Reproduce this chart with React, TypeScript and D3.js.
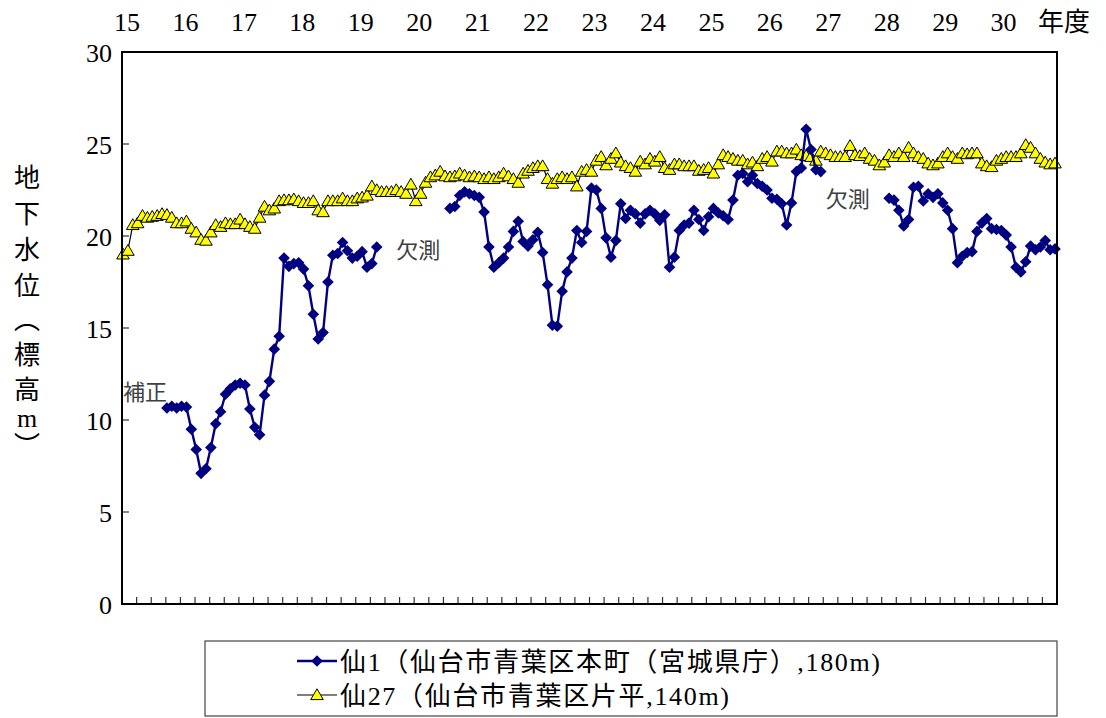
import React from "react";
import * as d3 from "d3";

// ---- data ----
const fiscalYears = ["15","16","17","18","19","20","21","22","23","24","25","26","27","28","29","30"];
const yTicks = [0, 5, 10, 15, 20, 25, 30];

// 仙27 monthly values (H15.4 -> H31.3)
const sen27Values: number[] = [
  19.0, 19.2, 20.6, 20.7, 21.1, 21.0, 21.05, 21.1, 21.2, 21.15,
  21.0, 20.7, 20.7, 20.8, 20.4, 20.2, 19.8, 19.75, 20.2, 20.6,
  20.5, 20.7, 20.65, 20.65, 20.9, 20.65, 20.5, 20.4, 21.0, 21.6,
  21.4, 21.5, 21.9, 21.95, 21.95, 22.0, 21.9, 21.8, 21.8, 21.9,
  21.4, 21.3, 21.9, 21.9, 21.9, 22.05, 21.9, 21.9, 22.05, 22.1,
  22.2, 22.7, 22.5, 22.4, 22.4,
  22.4, 22.5, 22.4, 22.3, 22.8, 21.9, 22.3, 22.9,
  23.2, 23.3, 23.5, 23.25, 23.2, 23.25, 23.4, 23.3, 23.2, 23.25,
  23.2, 23.1, 23.2, 23.1, 23.2, 23.4, 23.25, 23.1, 22.9, 23.4,
  23.55, 23.7, 23.8, 23.8, 23.1, 22.85, 23.1, 23.2, 23.1, 23.2,
  22.7, 23.5, 23.6, 23.5, 24.1, 24.3, 23.85, 24.2, 24.5, 24.0,
  23.8, 23.7, 23.5, 24.05, 23.9, 24.2, 24.05, 24.3, 23.7, 23.6,
  23.9, 23.9, 23.8, 23.8, 23.8, 23.55, 23.6, 23.7, 23.4, 23.9,
  24.4, 24.3, 24.2, 24.1,
  24.1, 23.9, 24.0, 23.8, 24.2, 24.3, 24.05, 24.6, 24.6, 24.5,
  24.5, 24.7, 24.4, 24.35, 24.3, 24.1, 24.6, 24.5, 24.4, 24.3,
  24.3, 24.3, 24.9, 24.4, 24.35, 24.5, 24.2, 24.1, 23.85, 24.0,
  24.4, 24.3, 24.5, 24.3, 24.8, 24.5, 24.3, 24.2, 23.95, 23.85,
  23.95, 24.3, 24.5, 24.3, 24.2, 24.5, 24.45, 24.5, 24.5, 23.95,
  23.8, 23.75, 24.1, 24.2, 24.3, 24.3, 24.3, 24.5, 24.95, 24.8,
  24.5, 24.2, 24.0, 23.9, 23.95,
];

// 仙1 monthly values (null = 欠測)
const sen1Values: (number | null)[] = [
  null, null, null, null, null, null, null, null, null,
  10.65, 10.75, 10.65, 10.75, 10.7, 9.5, 8.4, 7.1, 7.35, 8.5,
  9.8, 10.45, 11.4, 11.7, 11.9, 12.0, 11.9, 10.6, 9.6, 9.2,
  11.35, 12.1, 13.85, 14.55, 18.8, 18.35, 18.5, 18.55, 18.2, 17.3,
  15.75, 14.4, 14.75, 17.5, 18.95, 19.05, 19.65, 19.2, 18.8, 18.9,
  19.15, 18.3, 18.5, 19.4,
  null, null, null, null, null, null, null, null, null, null, null, null, null, null,
  21.5, 21.6, 22.2, 22.4, 22.3, 22.2, 22.1, 21.3, 19.4, 18.3,
  18.55, 18.8, 19.4, 20.25, 20.8, 19.7, 19.45, 19.8, 20.2, 19.1,
  17.35, 15.15, 15.1, 17.0, 18.05, 18.8, 20.3, 19.65, 20.25, 22.6,
  22.5, 21.5, 19.9, 18.85, 19.75, 21.75, 20.95, 21.4, 21.2, 20.7,
  21.2, 21.4, 21.2, 20.85, 21.15, 18.3, 18.85, 20.3, 20.6, 20.7,
  21.4, 20.9, 20.3, 21.05, 21.5, 21.25, 21.1, 20.9, 21.95, 23.3,
  23.4, 22.95,
  23.3, 22.85, 22.7, 22.5, 22.05, 22.0, 21.75, 20.6, 21.8, 23.5,
  23.7, 25.8, 24.7, 23.6, 23.5,
  null, null, null, null, null, null, null, null, null, null, null, null, null,
  22.05, 21.95, 21.4, 20.55, 20.9, 22.65, 22.7, 21.9, 22.3, 22.1,
  22.3, 21.8, 21.4, 20.4, 18.55, 18.9, 19.1, 19.15, 20.25, 20.7,
  20.95, 20.4, 20.35, 20.3, 20.05, 19.4, 18.3, 18.05, 18.6, 19.45,
  19.25, 19.4, 19.75, 19.25, 19.3,
];

const legendLabels = ["仙1（仙台市青葉区本町（宮城県庁）,180m)", "仙27（仙台市青葉区片平,140m)"];
const yTitleChars = ["地", "下", "水", "位", "︵", "標", "高", "m", "︶"];
const notes = [
  { text: "補正", idx: 0, v: 11.5 },
  { text: "欠測", idx: 56, v: 19.2 },
  { text: "欠測", idx: 144, v: 22.0 },
];

// ---- layout ----
const W = 1106, H = 718;
const L = 122, R = 1057, T = 52, B = 604;
const FONT = "Liberation Serif, DejaVu Serif, Noto Sans CJK JP, serif";
const NAVY = "#000080";

const x = d3.scaleLinear().domain([0, sen27Values.length - 1]).range([L + 1, R - 2]);
const xYear = d3.scaleLinear().domain([15, 31]).range([L, R]);
const xQuarter = d3.scaleLinear().domain([0, 64]).range([L, R]);
const y = d3.scaleLinear().domain([0, 30]).range([B, T]);

const diamond = "M0,-5.8L5.8,0L0,5.8L-5.8,0Z";
const triangle = "M0,-6.2L6.3,4.6L-6.3,4.6Z";
const titleY = [178, 214, 250, 286, 320, 355, 390, 418, 446];

export default function App() {
  const line27 = d3.line<number>().x((_, i) => x(i)).y((d) => y(d))(sen27Values) || "";
  const line1 = d3
    .line<number | null>()
    .defined((d) => d != null)
    .x((_, i) => x(i))
    .y((d) => y(d as number))(sen1Values) || "";
  const quarters = d3.range(1, 64);
  const txt = { fontFamily: FONT };

  return (
    <svg width={W} height={H} style={{ position: "absolute", left: 0, top: 0, background: "#fff", fontFamily: FONT }}>
      <rect width={W} height={H} fill="#fff" />
      {/* top year labels */}
      {fiscalYears.map((fy, k) => (
        <text key={fy} style={txt} x={xYear(15 + k) + 5} y={22} fontSize={26} textAnchor="middle" dominantBaseline="central" fill="#000">
          {fy}
        </text>
      ))}
      <text style={txt} x={xYear(31) + 7} y={22} fontSize={26} textAnchor="middle" dominantBaseline="central" fill="#000">年度</text>

      {/* y ticks labels */}
      {yTicks.map((t) => (
        <text key={t} style={txt} x={112} y={y(t) + 1} fontSize={26} textAnchor="end" dominantBaseline="central" fill="#000">
          {t}
        </text>
      ))}
      {/* y title */}
      {yTitleChars.map((c, k) => (
        <text key={k} style={txt} x={27} y={titleY[k]} fontSize={26} textAnchor="middle" dominantBaseline="central" fill="#000">
          {c}
        </text>
      ))}

      {/* ticks */}
      {yTicks.slice(1, -1).map((t) => (
        <line key={t} x1={L} x2={L + 7} y1={y(t)} y2={y(t)} stroke="#333" strokeWidth={1.2} />
      ))}
      {quarters.map((q) => (
        <line key={q} x1={xQuarter(q)} x2={xQuarter(q)} y1={B} y2={B - 7} stroke="#333" strokeWidth={1.2} />
      ))}

      {/* series 仙27 */}
      <path d={line27} fill="none" stroke="#000" strokeWidth={1.2} />
      {sen27Values.map((v, i) => (
        <path key={i} d={triangle} transform={`translate(${x(i)},${y(v)})`} fill="#ffff00" stroke="#000" strokeWidth={1} />
      ))}
      {/* series 仙1 */}
      <path d={line1} fill="none" stroke={NAVY} strokeWidth={2.4} />
      {sen1Values.map((v, i) =>
        v == null ? null : <path key={i} d={diamond} transform={`translate(${x(i)},${y(v)})`} fill={NAVY} />
      )}

      {/* notes */}
      {notes.map((n, k) => (
        <text key={k} style={txt} x={k === 0 ? 123 : x(n.idx)} y={y(n.v)} fontSize={22} dominantBaseline="central" fill="#404040" textAnchor="start">
          {n.text}
        </text>
      ))}

      {/* plot frame */}
      <rect x={L} y={T} width={R - L} height={B - T} fill="none" stroke="#000" strokeWidth={2} />

      {/* legend */}
      <rect x={205} y={641} width={852} height={75} fill="#fff" stroke="#444" strokeWidth={1.2} />
      <line x1={297} x2={337} y1={661} y2={661} stroke={NAVY} strokeWidth={2.4} />
      <path d={diamond} transform="translate(317,661)" fill={NAVY} />
      <text style={txt} x={340} y={662} fontSize={26} textLength={540} lengthAdjust="spacing" dominantBaseline="central" fill="#000">{legendLabels[0]}</text>
      <line x1={297} x2={337} y1={695} y2={695} stroke="#000" strokeWidth={1.2} />
      <path d={triangle} transform="translate(317,695)" fill="#ffff00" stroke="#000" strokeWidth={1} />
      <text style={txt} x={340} y={696} fontSize={26} textLength={389} lengthAdjust="spacing" dominantBaseline="central" fill="#000">{legendLabels[1]}</text>
    </svg>
  );
}
